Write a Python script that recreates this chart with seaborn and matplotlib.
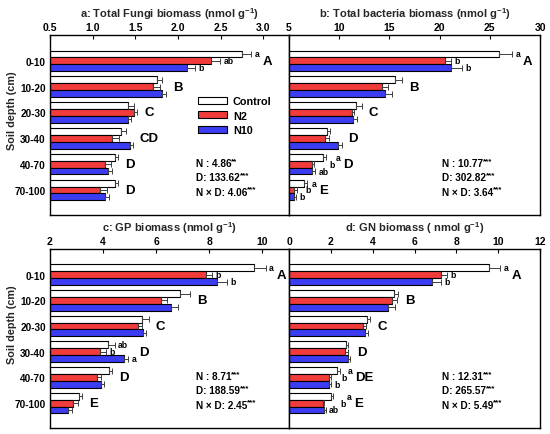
"""Soil microbial PLFA biomass by depth and N treatment (4-panel bar chart)."""

import matplotlib

matplotlib.use("Agg")

import matplotlib.pyplot as plt
import numpy as np
import pandas as pd
import seaborn as sns
from matplotlib.container import BarContainer

DEPTHS = ["0-10", "10-20", "20-30", "30-40", "40-70", "70-100"]
TREATMENTS = ["Control", "N2", "N10"]

# a: total fungi
FUNGI_MEAN = [
    [2.75, 1.75, 1.41, 1.33, 1.26, 1.26],
    [2.39, 1.71, 1.49, 1.23, 1.15, 1.09],
    [2.10, 1.81, 1.41, 1.44, 1.18, 1.14],
]
FUNGI_ERR = [
    [0.11, 0.065, 0.08, 0.06, 0.04, 0.04],
    [0.10, 0.08, 0.03, 0.08, 0.06, 0.08],
    [0.10, 0.05, 0.04, 0.03, 0.05, 0.05],
]
FUNGI_LETTERS = [["a", "ab", "b"], [], [], [], [], []]
FUNGI_GROUPS = ["A", "B", "C", "CD", "D", "D"]
FUNGI_STATS = [("N : 4.86", "**"), ("D: 133.62", "***"), ("N \u00d7 D: 4.06", "***")]

# b: total bacteria
BACT_MEAN = [
    [25.9, 15.56, 11.67, 8.75, 8.36, 6.49],
    [20.5, 14.23, 11.24, 8.59, 7.26, 5.50],
    [21.1, 14.56, 11.40, 9.90, 7.30, 5.45],
]
BACT_ERR = [
    [1.3, 0.66, 0.57, 0.33, 0.30, 0.27],
    [0.6, 0.60, 0.20, 0.40, 0.27, 0.33],
    [1.1, 0.66, 0.40, 0.33, 0.27, 0.20],
]
BACT_LETTERS = [["a", "b", "b"], [], [], [], ["a", "b", "ab"], ["a", "b", "b"]]
BACT_GROUPS = ["A", "B", "C", "D", "D", "E"]
BACT_STATS = [("N : 10.77", "***"), ("D: 302.82", "***"), ("N \u00d7 D: 3.64", "***")]

# c: gram-positive bacteria
GP_MEAN = [
    [9.70, 6.91, 5.46, 4.20, 4.24, 3.09],
    [7.88, 6.18, 5.33, 3.89, 3.76, 2.88],
    [8.29, 6.55, 5.50, 4.79, 3.92, 2.69],
]
GP_ERR = [
    [0.42, 0.35, 0.25, 0.23, 0.09, 0.13],
    [0.23, 0.23, 0.13, 0.23, 0.16, 0.16],
    [0.38, 0.26, 0.11, 0.16, 0.13, 0.13],
]
GP_LETTERS = [["a", "b", "b"], [], [], ["ab", "b", "a"], [], []]
GP_GROUPS = ["A", "B", "C", "D", "D", "E"]
GP_STATS = [("N : 8.71", "***"), ("D: 188.59", "***"), ("N \u00d7 D: 2.45", "***")]

# d: gram-negative bacteria
GN_MEAN = [
    [9.58, 5.02, 3.75, 2.73, 2.31, 2.01],
    [7.26, 4.91, 3.56, 2.68, 1.93, 1.61],
    [6.83, 4.72, 3.61, 2.84, 1.93, 1.67],
]
GN_ERR = [
    [0.51, 0.20, 0.13, 0.08, 0.13, 0.10],
    [0.29, 0.24, 0.13, 0.13, 0.07, 0.08],
    [0.43, 0.35, 0.16, 0.08, 0.08, 0.08],
]
GN_LETTERS = [["a", "b", "b"], [], [], [], ["a", "b", "b"], ["a", "b", "ab"]]
GN_GROUPS = ["A", "B", "C", "D", "DE", "E"]
GN_STATS = [("N : 12.31", "***"), ("D: 265.57", "***"), ("N \u00d7 D: 5.49", "***")]

TITLES = [
    "a: Total Fungi biomass (nmol g$^{-1}$)",
    "b: Total bacteria biomass (nmol g$^{-1}$)",
    "c: GP biomass (nmol g$^{-1}$)",
    "d: GN biomass ( nmol g$^{-1}$)",
]

PALETTE = {"Control": "#ffffff", "N2": "#f23c3c", "N10": "#3c3cf2"}
DPI = 100


def long_frame(means):
    rows = []
    for t, treat in enumerate(TREATMENTS):
        for d, depth in enumerate(DEPTHS):
            rows.append({"depth": depth, "treatment": treat, "value": means[t][d]})
    return pd.DataFrame(rows)


def draw_panel(fig, ax, means, errs, letters, groups, stats, title, xlim, xticks, fmt, left):
    df = long_frame(means)
    sns.barplot(
        data=df, x="value", y="depth", hue="treatment", order=DEPTHS,
        hue_order=TREATMENTS, palette=PALETTE, orient="h", errorbar=None,
        saturation=1, width=0.8, edgecolor="black", linewidth=0.8,
        legend=False, ax=ax,
    )
    bar_sets = [c for c in ax.containers if isinstance(c, BarContainer)]

    ends = {}
    for t, cont in enumerate(bar_sets):
        for bar in cont.patches:
            yc = bar.get_y() + bar.get_height() / 2
            d = int(round(yc))
            w = bar.get_width()
            e = errs[t][d]
            ax.errorbar(w, yc, xerr=[[0], [e]], fmt="none", ecolor="#404040",
                        elinewidth=0.7, capsize=2, capthick=0.7)
            ends[(t, d)] = (w + e, yc)

    ax.set_xlim(*xlim)
    ax.set_ylim(5.97, -1.0)
    ax.set_xticks(xticks)
    ax.set_xticklabels([fmt.format(v) for v in xticks], fontweight="bold")
    ax.xaxis.tick_top()
    ax.xaxis.set_label_position("top")
    ax.tick_params(axis="x", direction="in", length=3, width=0.8, pad=2.5,
                   labelsize=7.5, top=True, bottom=False)
    ax.tick_params(axis="y", length=0, pad=3, labelsize=7.2)
    ax.set_xlabel(title, fontsize=8, fontweight="bold", labelpad=3)
    for sp in ax.spines.values():
        sp.set_visible(True)
        sp.set_color("black")
        sp.set_linewidth(1.0)
    if left:
        ax.set_ylabel("Soil depth (cm)", fontsize=7.8, fontweight="bold")
        ax.yaxis.set_label_coords(-0.138, 0.585)
        plt.setp(ax.get_yticklabels(), fontweight="bold")
    else:
        ax.set_ylabel("")
        ax.set_yticklabels([])

    # treatment letters, nudged right when they would collide with the one below
    small = {}
    for d, labs in enumerate(letters):
        for t, lab in enumerate(labs):
            x, y = ends[(t, d)]
            small[(t, d)] = ax.annotate(lab, (x, y), xytext=(2.5, 0), textcoords="offset points",
                                        ha="left", va="center", fontsize=6.2,
                                        fontweight="bold")

    fig.canvas.draw()
    renderer = fig.canvas.get_renderer()
    for d in range(len(DEPTHS)):
        below = None
        for t in (2, 1, 0):
            txt = small.get((t, d))
            if txt is None:
                below = None
                continue
            bb = txt.get_window_extent(renderer)
            if below is not None and bb.x0 < below.x1 + 1 and bb.x1 > below.x0:
                shift = below.x1 + 1 - bb.x0
                txt.xyann = (2.5 + shift * 72 / DPI, 0)
                bb = txt.get_window_extent(renderer)
            below = bb

    inv = ax.transData.inverted()
    for d, g in enumerate(groups):
        right = max(ax.transData.transform(ends[(t, d)])[0] for t in range(3)) + 7
        for (t, dd), txt in small.items():
            if dd == d:
                right = max(right, txt.get_window_extent(renderer).x1 + 3)
        xg = inv.transform((right, 0))[0]
        ax.text(xg, d, g, ha="left", va="center", fontsize=9.5, fontweight="bold")

    for i, (main, star) in enumerate(stats):
        t = ax.text(0.61, 0.29 - i * 0.08, main, transform=ax.transAxes,
                    ha="left", va="center", fontsize=7.2, fontweight="bold")
        ax.annotate(star, xy=(1.0, 1.1), xycoords=t, ha="left", va="top",
                    fontsize=5.8, fontweight="bold")
    return bar_sets


sns.set_theme(style="white")
plt.rcParams["font.family"] = ["Liberation Sans", "DejaVu Sans"]
plt.rcParams["font.weight"] = "bold"
plt.rcParams["axes.labelweight"] = "bold"
plt.rcParams["mathtext.fontset"] = "custom"
plt.rcParams["mathtext.rm"] = "Liberation Sans:bold"
plt.rcParams["mathtext.it"] = "Liberation Sans:bold:italic"
plt.rcParams["mathtext.bf"] = "Liberation Sans:bold"
plt.rcParams["text.color"] = "black"
plt.rcParams["xtick.color"] = "black"
plt.rcParams["ytick.color"] = "black"

fig = plt.figure(figsize=(5.5, 4.35), dpi=DPI)
ax_a = fig.add_axes([0.0909, 0.5034, 0.4345, 0.4138])
ax_b = fig.add_axes([0.5255, 0.5034, 0.4564, 0.4138])
ax_c = fig.add_axes([0.0909, 0.0138, 0.4345, 0.4115])
ax_d = fig.add_axes([0.5255, 0.0138, 0.4564, 0.4115])

bars_a = draw_panel(fig, ax_a, FUNGI_MEAN, FUNGI_ERR, FUNGI_LETTERS, FUNGI_GROUPS, FUNGI_STATS,
                    TITLES[0], (0.5, 3.3), np.arange(0.5, 3.01, 0.5), "{:.1f}", True)
draw_panel(fig, ax_b, BACT_MEAN, BACT_ERR, BACT_LETTERS, BACT_GROUPS, BACT_STATS,
           TITLES[1], (5, 30), np.arange(5, 31, 5), "{:.0f}", False)
draw_panel(fig, ax_c, GP_MEAN, GP_ERR, GP_LETTERS, GP_GROUPS, GP_STATS,
           TITLES[2], (2, 11), np.arange(2, 11, 2), "{:.0f}", True)
draw_panel(fig, ax_d, GN_MEAN, GN_ERR, GN_LETTERS, GN_GROUPS, GN_STATS,
           TITLES[3], (0, 12), np.arange(0, 13, 2), "{:.0f}", False)

handles = [cont.patches[0] for cont in bars_a]
ax_a.legend(handles, TREATMENTS, loc="upper left", bbox_to_anchor=(0.62, 0.66),
            frameon=False, prop={"size": 7.8, "weight": "bold"}, handlelength=2.7,
            handleheight=0.6, handletextpad=0.5, labelspacing=0.4, borderpad=0,
            borderaxespad=0)

fig.savefig("out.png", dpi=DPI)
